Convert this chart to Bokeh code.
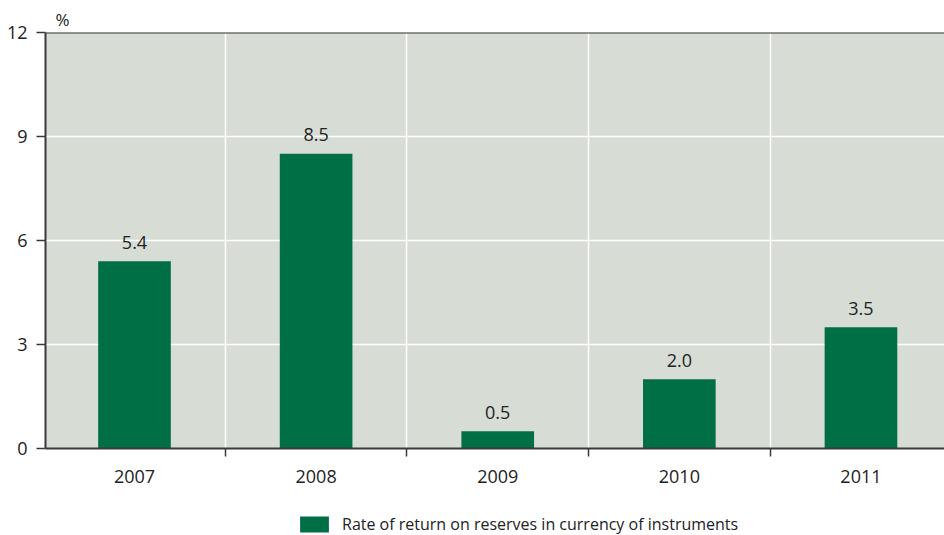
from bokeh.plotting import figure
from bokeh.layouts import column
from bokeh.models import (ColumnDataSource, FixedTicker, Span, Legend, LegendItem, Title, Range1d)
from bokeh.core.properties import value
from bokeh.embed import file_html
from bokeh.resources import INLINE

years = ["2007", "2008", "2009", "2010", "2011"]
rates = [5.4, 8.5, 0.5, 2.0, 3.5]
rate_labels = ["5.4", "8.5", "0.5", "2.0", "3.5"]
y_ticks = [0, 3, 6, 9, 12]
series_name = "Rate of return on reserves in currency of instruments"

FONT = "Open Sans"
GREEN = "#006f46"
BG = "#d7dcd5"
AX = "#3a3a3a"
TXT = "#222222"

xs = list(range(len(years)))
src = ColumnDataSource(dict(x=xs, top=rates, lab=rate_labels))

p = figure(width=944, height=500, output_backend="svg", toolbar_location=None,
           x_range=(-0.49, 4.46), y_range=(0, 12),
           min_border_left=45, min_border_right=0, min_border_top=32, min_border_bottom=52)
p.background_fill_color = BG
p.border_fill_color = "white"
p.outline_line_color = None

bars = p.vbar(x="x", top="top", width=0.4, source=src, fill_color=GREEN, line_color=None)
p.text(x="x", y="top", text="lab", source=src, text_align="center", text_baseline="alphabetic",
       y_offset=-19, text_font=value(FONT), text_font_size="18px", text_color=TXT)

# grids
p.xgrid.ticker = FixedTicker(ticks=[0.5, 1.5, 2.5, 3.5])
p.ygrid.ticker = FixedTicker(ticks=[3, 6, 9])
for g in (p.xgrid, p.ygrid):
    g.grid_line_color = "white"
    g.grid_line_width = 1.5

# x axis
xa = p.xaxis[0]
xa.ticker = FixedTicker(ticks=xs, minor_ticks=[-0.5, 0.5, 1.5, 2.5, 3.5])
xa.major_label_overrides = {i: y for i, y in enumerate(years)}
xa.major_tick_out = 0
xa.major_tick_in = 0
xa.minor_tick_out = 8
xa.minor_tick_in = 0
xa.minor_tick_line_color = AX
xa.minor_tick_line_width = 1.5
xa.major_label_standoff = 13

# y axis
ya = p.yaxis[0]
ya.ticker = FixedTicker(ticks=y_ticks)
ya.major_tick_out = 9
ya.major_tick_in = 0
ya.minor_tick_out = 0
ya.minor_tick_in = 0
ya.major_label_standoff = 9

for ax in (xa, ya):
    ax.axis_line_color = AX
    ax.axis_line_width = 2
    ax.major_tick_line_color = AX
    ax.major_tick_line_width = 1.5
    ax.major_label_text_font = FONT
    ax.major_label_text_font_size = "18px"
    ax.major_label_text_color = TXT

p.add_layout(Span(location=12, dimension="width", line_color=AX, line_width=2))

p.add_layout(Title(text="%", align="left", offset=10, standoff=4, text_font=FONT,
                   text_font_size="17px", text_font_style="normal", text_color=TXT), "above")

# legend strip
q = figure(width=944, height=35, output_backend="svg", toolbar_location=None,
           x_range=Range1d(0, 1), y_range=Range1d(0, 1),
           min_border_left=0, min_border_right=0, min_border_top=0, min_border_bottom=0)
q.axis.visible = False
q.grid.visible = False
q.outline_line_color = None
q.background_fill_color = "white"
swatch = q.vbar(x=[5], top=[0], width=0.1, fill_color=GREEN, line_color=None)

legend = Legend(items=[LegendItem(label=series_name, renderers=[swatch])],
                location=(251, 0), orientation="horizontal",
                glyph_width=36, glyph_height=20, label_height=20, label_standoff=10,
                padding=0, margin=0, border_line_color=None, background_fill_alpha=0,
                label_text_font=FONT, label_text_font_size="16px", label_text_color=TXT)
q.add_layout(legend, "center")

layout = column(p, q, spacing=0)
open("out.html", "w").write(file_html(layout, INLINE))
